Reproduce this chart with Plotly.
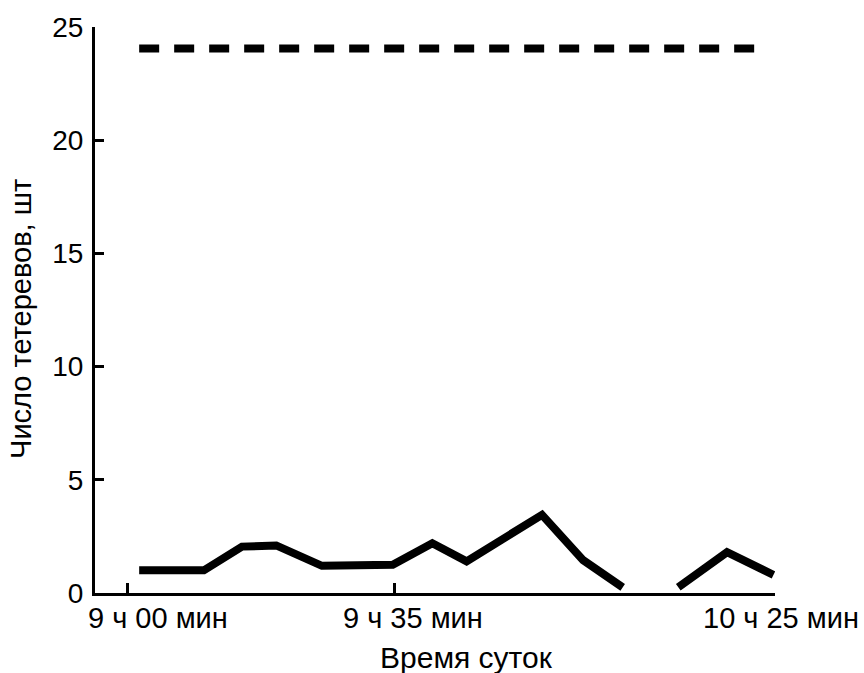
import plotly.graph_objects as go

# Время наблюдения, минут от 9 ч 00 мин
minutes_a = [1.5, 10, 15, 19.5, 25.5, 34.8, 40, 44.5, 54.4, 59.8, 65]
count_a = [1.0, 1.0, 2.05, 2.1, 1.2, 1.25, 2.2, 1.4, 3.45, 1.45, 0.25]

minutes_b = [72.3, 78.7, 84.8]
count_b = [0.25, 1.8, 0.8]

# Общее число тетеревов на току
total_minutes = [1.5, 82.8]
total_count = [24.05, 24.05]

tick_minutes = [0, 35, 85]
tick_text = ["9 ч 00 мин", "9 ч 35 мин", "10 ч 25 мин"]
# центры подписей делений в долях ширины области построения
label_pos = [0.093, 0.468, 1.009]

x_title = "Время суток"
y_title = "Число тетеревов, шт"

FONT = "Liberation Sans, Arial, sans-serif"

fig = go.Figure()

fig.add_trace(go.Scatter(
    x=total_minutes, y=total_count, mode="lines",
    line=dict(color="black", width=8, dash="20px,15px"),
    hoverinfo="skip", showlegend=False,
))
for xs, ys in [(minutes_a, count_a), (minutes_b, count_b)]:
    fig.add_trace(go.Scatter(
        x=xs, y=ys, mode="lines",
        line=dict(color="black", width=8),
        showlegend=False,
    ))

# Подписи делений оси времени
for xp, txt in zip(label_pos, tick_text):
    fig.add_annotation(
        x=xp, y=0, xref="paper", yref="paper", text=txt, showarrow=False,
        xanchor="center", yanchor="middle", yshift=-25,
        font=dict(family=FONT, size=29, color="black"),
    )

# Названия осей
fig.add_annotation(
    x=0.547, y=0, xref="paper", yref="paper", text=x_title, showarrow=False,
    xanchor="center", yanchor="middle", yshift=-64,
    font=dict(family=FONT, size=30, color="black"),
)
fig.add_annotation(
    x=-0.109, y=0.484, xref="paper", yref="paper", text=y_title,
    showarrow=False, textangle=-90, xanchor="center", yanchor="middle",
    font=dict(family=FONT, size=29, color="black"),
)

fig.update_layout(
    width=864, height=673,
    margin=dict(l=95, r=89, t=25, b=80),
    paper_bgcolor="white", plot_bgcolor="white",
    font=dict(family=FONT, size=28, color="black"),
    xaxis=dict(
        range=[-4.3, 85], tickvals=tick_minutes, ticktext=["", "", ""],
        ticks="inside", ticklen=10, tickwidth=3, tickcolor="black",
        showline=True, linecolor="black", linewidth=3,
        showgrid=False, zeroline=False,
    ),
    yaxis=dict(
        range=[0, 25], tickvals=[0, 5, 10, 15, 20, 25],
        ticks="inside", ticklen=9, tickwidth=3, tickcolor="black",
        showline=True, linecolor="black", linewidth=3,
        showgrid=False, zeroline=False,
        tickfont=dict(family=FONT, size=28),
        ticklabelstandoff=3,
    ),
)

fig.write_html("out.html")
